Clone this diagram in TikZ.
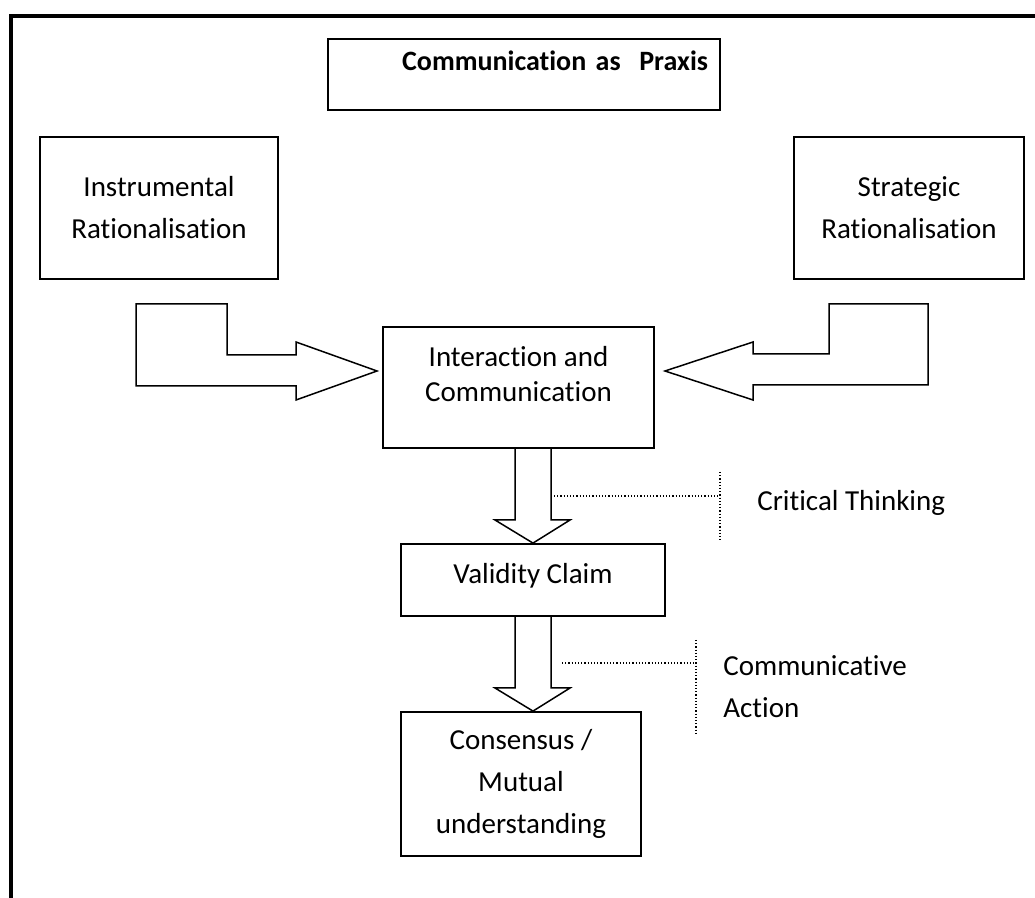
\documentclass[tikz,border=0pt]{standalone}
\usepackage{fontspec}
\setmainfont{Carlito}[Ligatures=NoCommon]

\begin{document}
\begin{tikzpicture}[yscale=-1,x=0.5pt,y=0.5pt]
	\tikzstyle{box} = [draw, line width=0.9pt, align=center, inner sep=0pt, font=\fontsize{14.5}{21}\selectfont]
	\tikzstyle{barrow} = [draw, line width=0.75pt, line join=miter]
	\tikzstyle{callout} = [line width=0.6pt, densely dotted]
	\tikzstyle{tag} = [inner sep=0pt, align=left, font=\fontsize{14.5}{21}\selectfont]

	\useasboundingbox (0,0) rectangle (1035,898);
	% outer frame, open at right and bottom
	\draw[line width=1.75pt] (11,898) -- (11,16) -- (1035,16);

	\node[box, minimum width=196pt, minimum height=35.5pt, text width=184pt, inner xsep=6pt, align=right, text depth=13.5pt, font=\fontsize{14}{21}\selectfont\bfseries] (title) at (524,74.5) {Communication as\ \ Praxis};
	\node[box, minimum width=119pt, minimum height=71pt] (instr) at (159,208) {Instrumental\\Rationalisation};
	\node[box, minimum width=115pt, minimum height=71pt] (strat) at (909,208) {Strategic\\Rationalisation};
	\node[box, minimum width=135.5pt, minimum height=60.5pt, font=\fontsize{14.5}{17.5}\selectfont, text depth=14pt] (inter) at (518.5,387.5) {Interaction and\\Communication};
	\node[box, minimum width=132pt, minimum height=36pt, text depth=7pt] (valid) at (533,580) {Validity Claim};
	\node[box, minimum width=120pt, minimum height=72pt] (cons) at (521,784) {Consensus /\\Mutual\\understanding};

	% bent block arrows into the centre box
	\draw[barrow] (136,304) -- (227,304) -- (227,355) -- (296,355) -- (296,342) -- (377,371) -- (296,400) -- (296,386) -- (136,386) -- cycle;
	\draw[barrow] (928,304) -- (829,304) -- (829,354) -- (753,354) -- (753,342) -- (665,371) -- (753,400) -- (753,385) -- (928,385) -- cycle;

	% down arrows
	\draw[barrow] (515,448) -- (515,520) -- (495,520) -- (valid.north) -- (570,520) -- (551,520) -- (551,448);
	\draw[barrow] (515,616) -- (515,688) -- (495,688) -- (valid.north |- cons.north) -- (570,688) -- (551,688) -- (551,616);

	% callouts
	\coordinate (ctfrom) at (554,496);
	\coordinate (ctbar) at (720,496);
	\draw[callout] (ctfrom) -- (ctbar);
	\draw[callout] (720,472) -- (720,542);
	\node[tag, anchor=base west] (crit) at (757,511) {Critical Thinking};

	\coordinate (cafrom) at (562,663);
	\coordinate (cabar) at (696,663);
	\draw[callout] (cafrom) -- (cabar);
	\draw[callout] (696,640) -- (696,733);
	\node[tag, anchor=west] (comm) at (723,687) {Communicative\\Action};
\end{tikzpicture}
\end{document}
